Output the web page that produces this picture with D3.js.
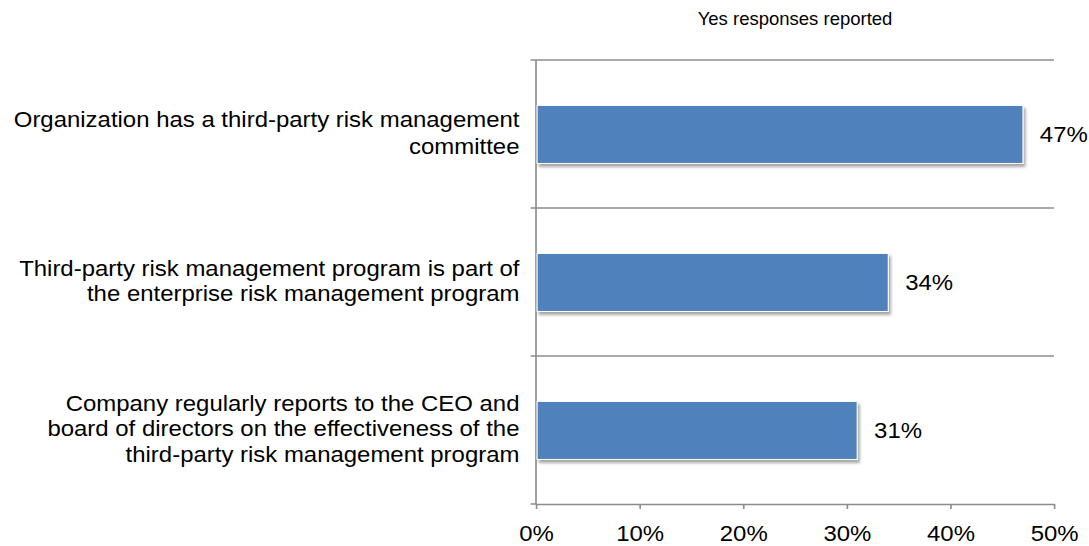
<!DOCTYPE html>
<html>
<head>
<meta charset="utf-8">
<script src="https://cdn.jsdelivr.net/npm/d3@7"></script>
<style>
  html, body { margin: 0; padding: 0; background: #fff; }
  svg { display: block; font-family: Arial, "Liberation Sans", sans-serif; }
</style>
</head>
<body>
<div id="chart"></div>
<script>
// data
var categories = [
    ['Organization has a third-party risk management', 'committee'],
    ['Third-party risk management program is part of', 'the enterprise risk management program'],
    ['Company regularly reports to the CEO and', 'board of directors on the effectiveness of the', 'third-party risk management program']
];
var values = [0.47, 0.34, 0.31];
var xTicks = [0, 0.1, 0.2, 0.3, 0.4, 0.5];
var title = 'Yes responses reported';

// the picture is slightly stretched sideways, so draw in a 1000 wide box
var W = 1000, H = 546, SX = 1089 / 1000;
var svg = d3.select('#chart').append('svg')
    .attr('width', 1089)
    .attr('height', H)
    .attr('viewBox', '0 0 ' + W + ' ' + H)
    .attr('preserveAspectRatio', 'none');

var defs = svg.append('defs');
var f = defs.append('filter').attr('id', 'shadow')
    .attr('x', '-5%').attr('y', '-20%').attr('width', '115%').attr('height', '150%');
f.append('feGaussianBlur').attr('in', 'SourceAlpha').attr('stdDeviation', 1.6);
f.append('feOffset').attr('dx', 2).attr('dy', 2.5).attr('result', 'off');
f.append('feComponentTransfer').append('feFuncA').attr('type', 'linear').attr('slope', 0.35);
var m = f.append('feMerge');
m.append('feMergeNode');
m.append('feMergeNode').attr('in', 'SourceGraphic');

var x = d3.scaleLinear().domain([0, 0.5]).range([492.2, 967.9]);
var y = d3.scaleBand().domain(d3.range(categories.length)).range([60, 504]).padding(0);
var gridCol = '#8c8c8c';

// horizontal separators (band edges) with small left ticks
var edges = d3.range(categories.length).map(function(i) { return y(i); });
svg.selectAll('.grid')
    .data(edges)
    .enter()
    .append('line')
        .attr('class', 'grid')
        .attr('x1', x(0) - 5)
        .attr('x2', x(0.5))
        .attr('y1', function(d) { return d; })
        .attr('y2', function(d) { return d; })
        .attr('stroke', gridCol)
        .attr('stroke-width', 1.5);

// bottom axis
var xAxis = d3.axisBottom(x)
    .tickValues(xTicks)
    .tickFormat(d3.format('.0%'))
    .tickSizeInner(5)
    .tickSizeOuter(0);
var gx = svg.append('g')
    .attr('transform', 'translate(0,504)')
    .call(xAxis);
gx.select('.domain').attr('stroke', gridCol).attr('stroke-width', 1.5);
gx.selectAll('.tick line').attr('stroke', gridCol).attr('stroke-width', 1.5);
gx.selectAll('.tick text')
    .attr('y', 0)
    .attr('dy', 37)
    .attr('fill', '#000')
    .style('font-size', '22px')
    .style('font-family', 'Arial, "Liberation Sans", sans-serif');
// left tick at the bottom edge too
svg.append('line')
    .attr('x1', x(0) - 5).attr('x2', x(0))
    .attr('y1', 504).attr('y2', 504)
    .attr('stroke', gridCol).attr('stroke-width', 1.5);

// vertical axis line
svg.append('line')
    .attr('x1', x(0)).attr('x2', x(0))
    .attr('y1', 60).attr('y2', 504)
    .attr('stroke', gridCol)
    .attr('stroke-width', 1.5);

// bars
var bw = y.bandwidth();
svg.selectAll('.bar')
    .data(values)
    .enter()
    .append('rect')
        .attr('class', 'bar')
        .attr('x', x(0) + 1)
        .attr('y', function(d, i) { return y(i) + bw * 0.307; })
        .attr('width', function(d) { return x(d) - x(0) - 1; })
        .attr('height', bw * 0.392)
        .attr('fill', '#4f81bd')
        .attr('stroke', '#fff')
        .attr('stroke-width', 1)
        .attr('filter', 'url(#shadow)');

// value labels
svg.selectAll('.val')
    .data(values)
    .enter()
    .append('text')
        .attr('class', 'val')
        .attr('x', function(d) { return x(d) + 15.5; })
        .attr('y', function(d, i) { return y(i) + bw / 2 + 8; })
        .style('font-size', '22px')
        .attr('fill', '#000')
        .text(function(d) { return Math.round(d * 100) + '%'; });

// category labels
var lh = 25.5;
svg.selectAll('.cat')
    .data(categories)
    .enter()
    .append('text')
        .attr('class', 'cat')
        .attr('text-anchor', 'end')
        .style('font-size', '22px')
        .attr('fill', '#000')
        .each(function(lines, i) {
            var t = d3.select(this);
            var c = y(i) + bw / 2;
            var h = lines.length == 2 && i == 0 ? 27.5 : lh;
            lines.forEach(function(s, k) {
                t.append('tspan')
                    .attr('x', 477)
                    .attr('y', c + (k - (lines.length - 1) / 2) * h + 6.5)
                    .text(s);
            });
        });

// title (not stretched)
var cx = (x(0) + x(0.5)) / 2;
svg.append('text')
    .attr('transform', 'translate(' + cx + ',25) scale(' + (1 / SX) + ',1)')
    .attr('text-anchor', 'middle')
    .style('font-size', '18.5px')
    .attr('fill', '#000')
    .text(title);
</script>
</body>
</html>
